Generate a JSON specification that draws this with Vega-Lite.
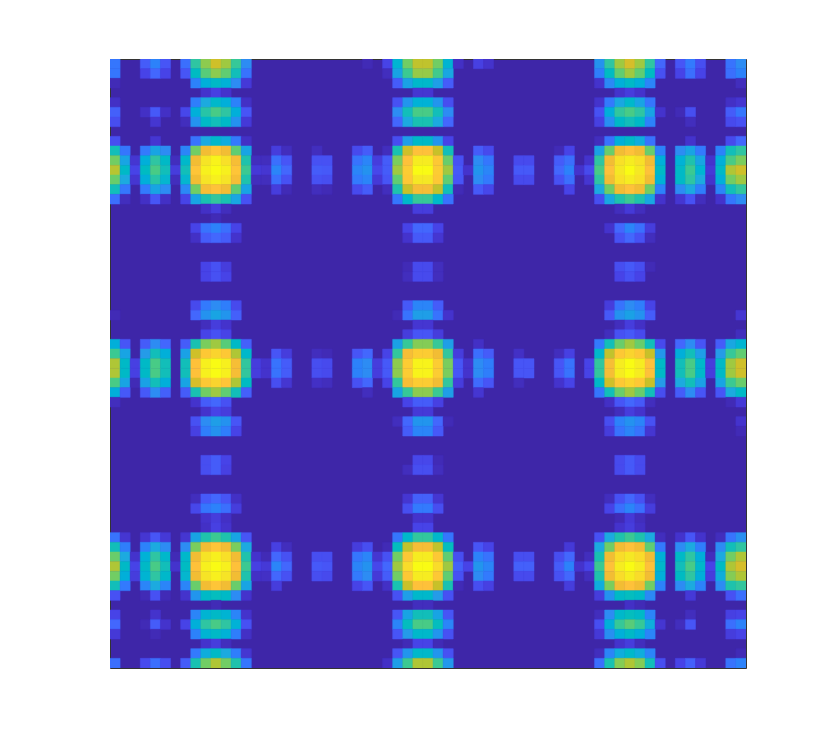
{"$schema":"https://vega.github.io/schema/vega-lite/v6.json","width":636,"height":609,"autosize":{"type":"none"},"padding":{"left":110,"top":59,"right":84,"bottom":86},"background":"white","view":{"fill":"#3e26a8","stroke":"#333333","strokeWidth":1},
"data":{"values":[
{"x":0,"y":0,"v":0.24},{"x":3,"y":0,"v":0.17},{"x":4,"y":0,"v":0.27},{"x":5,"y":0,"v":0.15},{"x":7,"y":0,"v":0.22},{"x":8,"y":0,"v":0.55},{"x":9,"y":0,"v":0.68},{"x":10,"y":0,"v":0.76},{"x":11,"y":0,"v":0.7},{"x":12,"y":0,"v":0.57},{"x":13,"y":0,"v":0.3},{"x":25,"y":0,"v":0.02},{"x":27,"y":0,"v":0.1},{"x":28,"y":0,"v":0.44},{"x":29,"y":0,"v":0.65},{"x":30,"y":0,"v":0.74},{"x":31,"y":0,"v":0.74},{"x":32,"y":0,"v":0.65},{"x":33,"y":0,"v":0.44},{"x":34,"y":0,"v":0.04},{"x":36,"y":0,"v":0.09},{"x":37,"y":0,"v":0.05},{"x":48,"y":0,"v":0.32},{"x":49,"y":0,"v":0.55},{"x":50,"y":0,"v":0.7},{"x":51,"y":0,"v":0.77},{"x":52,"y":0,"v":0.7},{"x":53,"y":0,"v":0.55},{"x":54,"y":0,"v":0.2},{"x":56,"y":0,"v":0.15},{"x":57,"y":0,"v":0.25},{"x":58,"y":0,"v":0.13},{"x":61,"y":0,"v":0.23},{"x":62,"y":0,"v":0.3},
{"x":0,"y":1,"v":0.24},{"x":3,"y":1,"v":0.1},{"x":4,"y":1,"v":0.2},{"x":5,"y":1,"v":0.1},{"x":7,"y":1,"v":0.15},{"x":8,"y":1,"v":0.48},{"x":9,"y":1,"v":0.62},{"x":10,"y":1,"v":0.68},{"x":11,"y":1,"v":0.63},{"x":12,"y":1,"v":0.5},{"x":13,"y":1,"v":0.23},{"x":27,"y":1,"v":0.03},{"x":28,"y":1,"v":0.38},{"x":29,"y":1,"v":0.58},{"x":30,"y":1,"v":0.69},{"x":31,"y":1,"v":0.69},{"x":32,"y":1,"v":0.59},{"x":33,"y":1,"v":0.39},{"x":48,"y":1,"v":0.26},{"x":49,"y":1,"v":0.48},{"x":50,"y":1,"v":0.63},{"x":51,"y":1,"v":0.7},{"x":52,"y":1,"v":0.63},{"x":53,"y":1,"v":0.48},{"x":54,"y":1,"v":0.14},{"x":56,"y":1,"v":0.1},{"x":57,"y":1,"v":0.22},{"x":58,"y":1,"v":0.1},{"x":61,"y":1,"v":0.22},{"x":62,"y":1,"v":0.27},
{"x":0,"y":2,"v":0.02},{"x":8,"y":2,"v":0.27},{"x":9,"y":2,"v":0.42},{"x":10,"y":2,"v":0.47},{"x":11,"y":2,"v":0.43},{"x":12,"y":2,"v":0.3},{"x":13,"y":2,"v":0.07},{"x":28,"y":2,"v":0.17},{"x":29,"y":2,"v":0.37},{"x":30,"y":2,"v":0.46},{"x":31,"y":2,"v":0.46},{"x":32,"y":2,"v":0.36},{"x":33,"y":2,"v":0.17},{"x":48,"y":2,"v":0.05},{"x":49,"y":2,"v":0.29},{"x":50,"y":2,"v":0.42},{"x":51,"y":2,"v":0.47},{"x":52,"y":2,"v":0.42},{"x":53,"y":2,"v":0.28},{"x":62,"y":2,"v":0.03},
{"x":9,"y":3,"v":0.05},{"x":10,"y":3,"v":0.09},{"x":11,"y":3,"v":0.05},{"x":30,"y":3,"v":0.06},{"x":31,"y":3,"v":0.06},{"x":50,"y":3,"v":0.05},{"x":51,"y":3,"v":0.08},{"x":52,"y":3,"v":0.05},
{"x":0,"y":4,"v":0.04},{"x":8,"y":4,"v":0.26},{"x":9,"y":4,"v":0.4},{"x":10,"y":4,"v":0.46},{"x":11,"y":4,"v":0.42},{"x":12,"y":4,"v":0.27},{"x":13,"y":4,"v":0.04},{"x":28,"y":4,"v":0.14},{"x":29,"y":4,"v":0.33},{"x":30,"y":4,"v":0.43},{"x":31,"y":4,"v":0.43},{"x":32,"y":4,"v":0.33},{"x":33,"y":4,"v":0.13},{"x":48,"y":4,"v":0.05},{"x":49,"y":4,"v":0.25},{"x":50,"y":4,"v":0.39},{"x":51,"y":4,"v":0.46},{"x":52,"y":4,"v":0.38},{"x":53,"y":4,"v":0.24},{"x":61,"y":4,"v":0.04},{"x":62,"y":4,"v":0.06},
{"x":0,"y":5,"v":0.18},{"x":3,"y":5,"v":0.04},{"x":4,"y":5,"v":0.16},{"x":5,"y":5,"v":0.04},{"x":7,"y":5,"v":0.11},{"x":8,"y":5,"v":0.42},{"x":9,"y":5,"v":0.54},{"x":10,"y":5,"v":0.6},{"x":11,"y":5,"v":0.55},{"x":12,"y":5,"v":0.42},{"x":13,"y":5,"v":0.15},{"x":28,"y":5,"v":0.3},{"x":29,"y":5,"v":0.5},{"x":30,"y":5,"v":0.6},{"x":31,"y":5,"v":0.6},{"x":32,"y":5,"v":0.5},{"x":33,"y":5,"v":0.3},{"x":48,"y":5,"v":0.14},{"x":49,"y":5,"v":0.42},{"x":50,"y":5,"v":0.56},{"x":51,"y":5,"v":0.6},{"x":52,"y":5,"v":0.55},{"x":53,"y":5,"v":0.38},{"x":54,"y":5,"v":0.05},{"x":56,"y":5,"v":0.02},{"x":57,"y":5,"v":0.13},{"x":61,"y":5,"v":0.17},{"x":62,"y":5,"v":0.24},
{"x":0,"y":6,"v":0.13},{"x":4,"y":6,"v":0.06},{"x":7,"y":6,"v":0.03},{"x":8,"y":6,"v":0.32},{"x":9,"y":6,"v":0.47},{"x":10,"y":6,"v":0.5},{"x":11,"y":6,"v":0.47},{"x":12,"y":6,"v":0.32},{"x":13,"y":6,"v":0.07},{"x":28,"y":6,"v":0.2},{"x":29,"y":6,"v":0.4},{"x":30,"y":6,"v":0.52},{"x":31,"y":6,"v":0.52},{"x":32,"y":6,"v":0.4},{"x":33,"y":6,"v":0.2},{"x":48,"y":6,"v":0.09},{"x":49,"y":6,"v":0.31},{"x":50,"y":6,"v":0.47},{"x":51,"y":6,"v":0.5},{"x":52,"y":6,"v":0.47},{"x":53,"y":6,"v":0.27},{"x":57,"y":6,"v":0.03},{"x":61,"y":6,"v":0.12},{"x":62,"y":6,"v":0.14},
{"x":0,"y":8,"v":0.13},{"x":4,"y":8,"v":0.06},{"x":8,"y":8,"v":0.23},{"x":9,"y":8,"v":0.4},{"x":10,"y":8,"v":0.46},{"x":11,"y":8,"v":0.41},{"x":12,"y":8,"v":0.25},{"x":13,"y":8,"v":0.04},{"x":28,"y":8,"v":0.13},{"x":29,"y":8,"v":0.36},{"x":30,"y":8,"v":0.47},{"x":31,"y":8,"v":0.47},{"x":32,"y":8,"v":0.33},{"x":33,"y":8,"v":0.1},{"x":48,"y":8,"v":0.03},{"x":49,"y":8,"v":0.23},{"x":50,"y":8,"v":0.42},{"x":51,"y":8,"v":0.47},{"x":52,"y":8,"v":0.41},{"x":53,"y":8,"v":0.23},{"x":57,"y":8,"v":0.05},{"x":61,"y":8,"v":0.12},{"x":62,"y":8,"v":0.2},
{"x":0,"y":9,"v":0.5},{"x":1,"y":9,"v":0.24},{"x":3,"y":9,"v":0.25},{"x":4,"y":9,"v":0.38},{"x":5,"y":9,"v":0.3},{"x":7,"y":9,"v":0.28},{"x":8,"y":9,"v":0.65},{"x":9,"y":9,"v":0.82},{"x":10,"y":9,"v":0.86},{"x":11,"y":9,"v":0.82},{"x":12,"y":9,"v":0.63},{"x":13,"y":9,"v":0.38},{"x":16,"y":9,"v":0.08},{"x":17,"y":9,"v":0.03},{"x":20,"y":9,"v":0.03},{"x":24,"y":9,"v":0.12},{"x":25,"y":9,"v":0.17},{"x":27,"y":9,"v":0.03},{"x":28,"y":9,"v":0.52},{"x":29,"y":9,"v":0.76},{"x":30,"y":9,"v":0.85},{"x":31,"y":9,"v":0.85},{"x":32,"y":9,"v":0.75},{"x":33,"y":9,"v":0.5},{"x":36,"y":9,"v":0.17},{"x":37,"y":9,"v":0.12},{"x":44,"y":9,"v":0.02},{"x":45,"y":9,"v":0.1},{"x":48,"y":9,"v":0.37},{"x":49,"y":9,"v":0.64},{"x":50,"y":9,"v":0.82},{"x":51,"y":9,"v":0.85},{"x":52,"y":9,"v":0.82},{"x":53,"y":9,"v":0.64},{"x":54,"y":9,"v":0.27},{"x":56,"y":9,"v":0.3},{"x":57,"y":9,"v":0.38},{"x":58,"y":9,"v":0.25},{"x":60,"y":9,"v":0.27},{"x":61,"y":9,"v":0.5},{"x":62,"y":9,"v":0.55},
{"x":0,"y":10,"v":0.65},{"x":1,"y":10,"v":0.38},{"x":2,"y":10,"v":0.06},{"x":3,"y":10,"v":0.42},{"x":4,"y":10,"v":0.55},{"x":5,"y":10,"v":0.47},{"x":6,"y":10,"v":0.03},{"x":7,"y":10,"v":0.46},{"x":8,"y":10,"v":0.82},{"x":9,"y":10,"v":0.94},{"x":10,"y":10,"v":0.98},{"x":11,"y":10,"v":0.93},{"x":12,"y":10,"v":0.83},{"x":13,"y":10,"v":0.53},{"x":14,"y":10,"v":0.03},{"x":15,"y":10,"v":0.03},{"x":16,"y":10,"v":0.22},{"x":17,"y":10,"v":0.15},{"x":20,"y":10,"v":0.14},{"x":21,"y":10,"v":0.14},{"x":24,"y":10,"v":0.23},{"x":25,"y":10,"v":0.28},{"x":26,"y":10,"v":0.08},{"x":27,"y":10,"v":0.17},{"x":28,"y":10,"v":0.66},{"x":29,"y":10,"v":0.85},{"x":30,"y":10,"v":0.96},{"x":31,"y":10,"v":0.96},{"x":32,"y":10,"v":0.87},{"x":33,"y":10,"v":0.64},{"x":34,"y":10,"v":0.14},{"x":36,"y":10,"v":0.3},{"x":37,"y":10,"v":0.24},{"x":40,"y":10,"v":0.12},{"x":41,"y":10,"v":0.12},{"x":44,"y":10,"v":0.17},{"x":45,"y":10,"v":0.22},{"x":47,"y":10,"v":0.05},{"x":48,"y":10,"v":0.55},{"x":49,"y":10,"v":0.82},{"x":50,"y":10,"v":0.93},{"x":51,"y":10,"v":0.96},{"x":52,"y":10,"v":0.93},{"x":53,"y":10,"v":0.82},{"x":54,"y":10,"v":0.42},{"x":56,"y":10,"v":0.43},{"x":57,"y":10,"v":0.53},{"x":58,"y":10,"v":0.38},{"x":59,"y":10,"v":0.05},{"x":60,"y":10,"v":0.42},{"x":61,"y":10,"v":0.6},{"x":62,"y":10,"v":0.66},
{"x":0,"y":11,"v":0.73},{"x":1,"y":11,"v":0.47},{"x":2,"y":11,"v":0.1},{"x":3,"y":11,"v":0.48},{"x":4,"y":11,"v":0.6},{"x":5,"y":11,"v":0.5},{"x":6,"y":11,"v":0.08},{"x":7,"y":11,"v":0.5},{"x":8,"y":11,"v":0.86},{"x":9,"y":11,"v":0.97},{"x":10,"y":11,"v":1},{"x":11,"y":11,"v":0.97},{"x":12,"y":11,"v":0.86},{"x":13,"y":11,"v":0.58},{"x":14,"y":11,"v":0.07},{"x":15,"y":11,"v":0.06},{"x":16,"y":11,"v":0.28},{"x":17,"y":11,"v":0.2},{"x":20,"y":11,"v":0.17},{"x":21,"y":11,"v":0.16},{"x":24,"y":11,"v":0.28},{"x":25,"y":11,"v":0.32},{"x":26,"y":11,"v":0.11},{"x":27,"y":11,"v":0.17},{"x":28,"y":11,"v":0.7},{"x":29,"y":11,"v":0.88},{"x":30,"y":11,"v":1},{"x":31,"y":11,"v":1},{"x":32,"y":11,"v":0.88},{"x":33,"y":11,"v":0.7},{"x":34,"y":11,"v":0.16},{"x":35,"y":11,"v":0.05},{"x":36,"y":11,"v":0.33},{"x":37,"y":11,"v":0.28},{"x":40,"y":11,"v":0.16},{"x":41,"y":11,"v":0.16},{"x":44,"y":11,"v":0.2},{"x":45,"y":11,"v":0.27},{"x":46,"y":11,"v":0.05},{"x":47,"y":11,"v":0.12},{"x":48,"y":11,"v":0.6},{"x":49,"y":11,"v":0.85},{"x":50,"y":11,"v":0.95},{"x":51,"y":11,"v":1},{"x":52,"y":11,"v":0.95},{"x":53,"y":11,"v":0.85},{"x":54,"y":11,"v":0.47},{"x":56,"y":11,"v":0.47},{"x":57,"y":11,"v":0.58},{"x":58,"y":11,"v":0.44},{"x":59,"y":11,"v":0.07},{"x":60,"y":11,"v":0.47},{"x":61,"y":11,"v":0.72},{"x":62,"y":11,"v":0.76},
{"x":0,"y":12,"v":0.64},{"x":1,"y":12,"v":0.4},{"x":2,"y":12,"v":0.06},{"x":3,"y":12,"v":0.42},{"x":4,"y":12,"v":0.54},{"x":5,"y":12,"v":0.45},{"x":6,"y":12,"v":0.03},{"x":7,"y":12,"v":0.45},{"x":8,"y":12,"v":0.82},{"x":9,"y":12,"v":0.94},{"x":10,"y":12,"v":0.97},{"x":11,"y":12,"v":0.94},{"x":12,"y":12,"v":0.83},{"x":13,"y":12,"v":0.53},{"x":14,"y":12,"v":0.03},{"x":15,"y":12,"v":0.03},{"x":16,"y":12,"v":0.22},{"x":17,"y":12,"v":0.14},{"x":20,"y":12,"v":0.14},{"x":21,"y":12,"v":0.13},{"x":24,"y":12,"v":0.25},{"x":25,"y":12,"v":0.28},{"x":26,"y":12,"v":0.07},{"x":27,"y":12,"v":0.15},{"x":28,"y":12,"v":0.63},{"x":29,"y":12,"v":0.87},{"x":30,"y":12,"v":0.95},{"x":31,"y":12,"v":0.95},{"x":32,"y":12,"v":0.87},{"x":33,"y":12,"v":0.63},{"x":34,"y":12,"v":0.15},{"x":36,"y":12,"v":0.3},{"x":37,"y":12,"v":0.25},{"x":40,"y":12,"v":0.12},{"x":41,"y":12,"v":0.12},{"x":44,"y":12,"v":0.14},{"x":45,"y":12,"v":0.22},{"x":47,"y":12,"v":0.06},{"x":48,"y":12,"v":0.55},{"x":49,"y":12,"v":0.82},{"x":50,"y":12,"v":0.93},{"x":51,"y":12,"v":0.96},{"x":52,"y":12,"v":0.93},{"x":53,"y":12,"v":0.82},{"x":54,"y":12,"v":0.43},{"x":56,"y":12,"v":0.47},{"x":57,"y":12,"v":0.55},{"x":58,"y":12,"v":0.4},{"x":59,"y":12,"v":0.05},{"x":60,"y":12,"v":0.42},{"x":61,"y":12,"v":0.65},{"x":62,"y":12,"v":0.7},
{"x":0,"y":13,"v":0.5},{"x":1,"y":13,"v":0.24},{"x":3,"y":13,"v":0.25},{"x":4,"y":13,"v":0.38},{"x":5,"y":13,"v":0.3},{"x":7,"y":13,"v":0.29},{"x":8,"y":13,"v":0.65},{"x":9,"y":13,"v":0.83},{"x":10,"y":13,"v":0.85},{"x":11,"y":13,"v":0.82},{"x":12,"y":13,"v":0.63},{"x":13,"y":13,"v":0.38},{"x":16,"y":13,"v":0.08},{"x":17,"y":13,"v":0.02},{"x":20,"y":13,"v":0.03},{"x":21,"y":13,"v":0.02},{"x":24,"y":13,"v":0.12},{"x":25,"y":13,"v":0.17},{"x":27,"y":13,"v":0.03},{"x":28,"y":13,"v":0.53},{"x":29,"y":13,"v":0.75},{"x":30,"y":13,"v":0.83},{"x":31,"y":13,"v":0.83},{"x":32,"y":13,"v":0.74},{"x":33,"y":13,"v":0.5},{"x":34,"y":13,"v":0.02},{"x":36,"y":13,"v":0.16},{"x":37,"y":13,"v":0.11},{"x":45,"y":13,"v":0.1},{"x":48,"y":13,"v":0.4},{"x":49,"y":13,"v":0.65},{"x":50,"y":13,"v":0.82},{"x":51,"y":13,"v":0.85},{"x":52,"y":13,"v":0.82},{"x":53,"y":13,"v":0.65},{"x":54,"y":13,"v":0.27},{"x":56,"y":13,"v":0.3},{"x":57,"y":13,"v":0.4},{"x":58,"y":13,"v":0.26},{"x":60,"y":13,"v":0.28},{"x":61,"y":13,"v":0.5},{"x":62,"y":13,"v":0.56},
{"x":0,"y":14,"v":0.22},{"x":1,"y":14,"v":0.03},{"x":3,"y":14,"v":0.04},{"x":4,"y":14,"v":0.15},{"x":5,"y":14,"v":0.04},{"x":7,"y":14,"v":0.1},{"x":8,"y":14,"v":0.38},{"x":9,"y":14,"v":0.52},{"x":10,"y":14,"v":0.56},{"x":11,"y":14,"v":0.52},{"x":12,"y":14,"v":0.39},{"x":13,"y":14,"v":0.14},{"x":28,"y":14,"v":0.24},{"x":29,"y":14,"v":0.46},{"x":30,"y":14,"v":0.57},{"x":31,"y":14,"v":0.57},{"x":32,"y":14,"v":0.46},{"x":33,"y":14,"v":0.23},{"x":48,"y":14,"v":0.13},{"x":49,"y":14,"v":0.39},{"x":50,"y":14,"v":0.53},{"x":51,"y":14,"v":0.58},{"x":52,"y":14,"v":0.53},{"x":53,"y":14,"v":0.39},{"x":54,"y":14,"v":0.05},{"x":56,"y":14,"v":0.06},{"x":57,"y":14,"v":0.14},{"x":58,"y":14,"v":0.03},{"x":60,"y":14,"v":0.05},{"x":61,"y":14,"v":0.24},{"x":62,"y":14,"v":0.3},
{"x":9,"y":15,"v":0.04},{"x":10,"y":15,"v":0.08},{"x":11,"y":15,"v":0.03},{"x":30,"y":15,"v":0.08},{"x":31,"y":15,"v":0.08},{"x":50,"y":15,"v":0.03},{"x":51,"y":15,"v":0.07},{"x":52,"y":15,"v":0.03},
{"x":10,"y":16,"v":0.02},
{"x":8,"y":17,"v":0.1},{"x":9,"y":17,"v":0.23},{"x":10,"y":17,"v":0.27},{"x":11,"y":17,"v":0.22},{"x":12,"y":17,"v":0.1},{"x":29,"y":17,"v":0.1},{"x":30,"y":17,"v":0.2},{"x":31,"y":17,"v":0.2},{"x":32,"y":17,"v":0.1},{"x":49,"y":17,"v":0.05},{"x":50,"y":17,"v":0.2},{"x":51,"y":17,"v":0.28},{"x":52,"y":17,"v":0.22},{"x":53,"y":17,"v":0.08},
{"x":8,"y":18,"v":0.04},{"x":9,"y":18,"v":0.17},{"x":10,"y":18,"v":0.2},{"x":11,"y":18,"v":0.17},{"x":12,"y":18,"v":0.05},{"x":29,"y":18,"v":0.05},{"x":30,"y":18,"v":0.16},{"x":31,"y":18,"v":0.16},{"x":32,"y":18,"v":0.06},{"x":50,"y":18,"v":0.14},{"x":51,"y":18,"v":0.2},{"x":52,"y":18,"v":0.14},{"x":53,"y":18,"v":0.03},
{"x":9,"y":21,"v":0.1},{"x":10,"y":21,"v":0.14},{"x":11,"y":21,"v":0.08},{"x":29,"y":21,"v":0.02},{"x":30,"y":21,"v":0.12},{"x":31,"y":21,"v":0.12},{"x":32,"y":21,"v":0.03},{"x":50,"y":21,"v":0.13},{"x":51,"y":21,"v":0.16},{"x":52,"y":21,"v":0.13},{"x":53,"y":21,"v":0.02},
{"x":9,"y":22,"v":0.1},{"x":10,"y":22,"v":0.14},{"x":11,"y":22,"v":0.1},{"x":29,"y":22,"v":0.03},{"x":30,"y":22,"v":0.12},{"x":31,"y":22,"v":0.12},{"x":32,"y":22,"v":0.03},{"x":50,"y":22,"v":0.1},{"x":51,"y":22,"v":0.14},{"x":52,"y":22,"v":0.1},
{"x":8,"y":25,"v":0.12},{"x":9,"y":25,"v":0.25},{"x":10,"y":25,"v":0.3},{"x":11,"y":25,"v":0.26},{"x":12,"y":25,"v":0.12},{"x":29,"y":25,"v":0.16},{"x":30,"y":25,"v":0.28},{"x":31,"y":25,"v":0.28},{"x":32,"y":25,"v":0.17},{"x":49,"y":25,"v":0.08},{"x":50,"y":25,"v":0.23},{"x":51,"y":25,"v":0.3},{"x":52,"y":25,"v":0.26},{"x":53,"y":25,"v":0.1},
{"x":0,"y":26,"v":0.02},{"x":8,"y":26,"v":0.2},{"x":9,"y":26,"v":0.32},{"x":10,"y":26,"v":0.38},{"x":11,"y":26,"v":0.33},{"x":12,"y":26,"v":0.18},{"x":28,"y":26,"v":0.02},{"x":29,"y":26,"v":0.23},{"x":30,"y":26,"v":0.36},{"x":31,"y":26,"v":0.36},{"x":32,"y":26,"v":0.23},{"x":33,"y":26,"v":0.05},{"x":49,"y":26,"v":0.16},{"x":50,"y":26,"v":0.32},{"x":51,"y":26,"v":0.37},{"x":52,"y":26,"v":0.32},{"x":53,"y":26,"v":0.17},{"x":62,"y":26,"v":0.06},
{"x":9,"y":27,"v":0.03},{"x":10,"y":27,"v":0.08},{"x":11,"y":27,"v":0.05},{"x":30,"y":27,"v":0.06},{"x":31,"y":27,"v":0.06},{"x":50,"y":27,"v":0.03},{"x":51,"y":27,"v":0.08},{"x":52,"y":27,"v":0.04},
{"x":9,"y":28,"v":0.1},{"x":10,"y":28,"v":0.14},{"x":11,"y":28,"v":0.1},{"x":29,"y":28,"v":0.08},{"x":30,"y":28,"v":0.15},{"x":31,"y":28,"v":0.15},{"x":32,"y":28,"v":0.08},{"x":49,"y":28,"v":0.03},{"x":50,"y":28,"v":0.14},{"x":51,"y":28,"v":0.16},{"x":52,"y":28,"v":0.12},{"x":62,"y":28,"v":0.03},
{"x":0,"y":29,"v":0.42},{"x":1,"y":29,"v":0.15},{"x":3,"y":29,"v":0.17},{"x":4,"y":29,"v":0.3},{"x":5,"y":29,"v":0.2},{"x":7,"y":29,"v":0.17},{"x":8,"y":29,"v":0.52},{"x":9,"y":29,"v":0.66},{"x":10,"y":29,"v":0.7},{"x":11,"y":29,"v":0.62},{"x":12,"y":29,"v":0.47},{"x":13,"y":29,"v":0.18},{"x":28,"y":29,"v":0.37},{"x":29,"y":29,"v":0.57},{"x":30,"y":29,"v":0.67},{"x":31,"y":29,"v":0.67},{"x":32,"y":29,"v":0.57},{"x":33,"y":29,"v":0.36},{"x":36,"y":29,"v":0.04},{"x":48,"y":29,"v":0.25},{"x":49,"y":29,"v":0.5},{"x":50,"y":29,"v":0.64},{"x":51,"y":29,"v":0.7},{"x":52,"y":29,"v":0.64},{"x":53,"y":29,"v":0.5},{"x":54,"y":29,"v":0.12},{"x":56,"y":29,"v":0.2},{"x":57,"y":29,"v":0.3},{"x":58,"y":29,"v":0.15},{"x":60,"y":29,"v":0.17},{"x":61,"y":29,"v":0.39},{"x":62,"y":29,"v":0.44},
{"x":0,"y":30,"v":0.58},{"x":1,"y":30,"v":0.38},{"x":3,"y":30,"v":0.35},{"x":4,"y":30,"v":0.5},{"x":5,"y":30,"v":0.42},{"x":7,"y":30,"v":0.37},{"x":8,"y":30,"v":0.76},{"x":9,"y":30,"v":0.87},{"x":10,"y":30,"v":0.9},{"x":11,"y":30,"v":0.87},{"x":12,"y":30,"v":0.72},{"x":13,"y":30,"v":0.46},{"x":16,"y":30,"v":0.15},{"x":17,"y":30,"v":0.08},{"x":20,"y":30,"v":0.03},{"x":21,"y":30,"v":0.02},{"x":24,"y":30,"v":0.15},{"x":25,"y":30,"v":0.2},{"x":27,"y":30,"v":0.1},{"x":28,"y":30,"v":0.56},{"x":29,"y":30,"v":0.83},{"x":30,"y":30,"v":0.88},{"x":31,"y":30,"v":0.88},{"x":32,"y":30,"v":0.82},{"x":33,"y":30,"v":0.56},{"x":34,"y":30,"v":0.08},{"x":36,"y":30,"v":0.22},{"x":37,"y":30,"v":0.17},{"x":40,"y":30,"v":0.04},{"x":44,"y":30,"v":0.03},{"x":45,"y":30,"v":0.09},{"x":48,"y":30,"v":0.46},{"x":49,"y":30,"v":0.74},{"x":50,"y":30,"v":0.87},{"x":51,"y":30,"v":0.9},{"x":52,"y":30,"v":0.87},{"x":53,"y":30,"v":0.75},{"x":54,"y":30,"v":0.34},{"x":56,"y":30,"v":0.42},{"x":57,"y":30,"v":0.5},{"x":58,"y":30,"v":0.36},{"x":60,"y":30,"v":0.35},{"x":61,"y":30,"v":0.57},{"x":62,"y":30,"v":0.63},
{"x":0,"y":31,"v":0.72},{"x":1,"y":31,"v":0.47},{"x":2,"y":31,"v":0.09},{"x":3,"y":31,"v":0.47},{"x":4,"y":31,"v":0.6},{"x":5,"y":31,"v":0.5},{"x":7,"y":31,"v":0.5},{"x":8,"y":31,"v":0.85},{"x":9,"y":31,"v":0.97},{"x":10,"y":31,"v":1},{"x":11,"y":31,"v":0.97},{"x":12,"y":31,"v":0.83},{"x":13,"y":31,"v":0.56},{"x":14,"y":31,"v":0.08},{"x":15,"y":31,"v":0.05},{"x":16,"y":31,"v":0.23},{"x":17,"y":31,"v":0.17},{"x":20,"y":31,"v":0.13},{"x":21,"y":31,"v":0.12},{"x":24,"y":31,"v":0.27},{"x":25,"y":31,"v":0.3},{"x":26,"y":31,"v":0.08},{"x":27,"y":31,"v":0.16},{"x":28,"y":31,"v":0.68},{"x":29,"y":31,"v":0.88},{"x":30,"y":31,"v":0.98},{"x":31,"y":31,"v":0.98},{"x":32,"y":31,"v":0.88},{"x":33,"y":31,"v":0.66},{"x":34,"y":31,"v":0.15},{"x":35,"y":31,"v":0.05},{"x":36,"y":31,"v":0.3},{"x":37,"y":31,"v":0.26},{"x":40,"y":31,"v":0.15},{"x":41,"y":31,"v":0.15},{"x":44,"y":31,"v":0.15},{"x":45,"y":31,"v":0.23},{"x":47,"y":31,"v":0.1},{"x":48,"y":31,"v":0.56},{"x":49,"y":31,"v":0.83},{"x":50,"y":31,"v":0.96},{"x":51,"y":31,"v":1},{"x":52,"y":31,"v":0.96},{"x":53,"y":31,"v":0.85},{"x":54,"y":31,"v":0.47},{"x":56,"y":31,"v":0.5},{"x":57,"y":31,"v":0.6},{"x":58,"y":31,"v":0.46},{"x":59,"y":31,"v":0.08},{"x":60,"y":31,"v":0.47},{"x":61,"y":31,"v":0.7},{"x":62,"y":31,"v":0.76},
{"x":0,"y":32,"v":0.72},{"x":1,"y":32,"v":0.47},{"x":2,"y":32,"v":0.09},{"x":3,"y":32,"v":0.47},{"x":4,"y":32,"v":0.6},{"x":5,"y":32,"v":0.5},{"x":7,"y":32,"v":0.5},{"x":8,"y":32,"v":0.85},{"x":9,"y":32,"v":0.97},{"x":10,"y":32,"v":1},{"x":11,"y":32,"v":0.97},{"x":12,"y":32,"v":0.83},{"x":13,"y":32,"v":0.56},{"x":14,"y":32,"v":0.08},{"x":15,"y":32,"v":0.05},{"x":16,"y":32,"v":0.23},{"x":17,"y":32,"v":0.17},{"x":20,"y":32,"v":0.13},{"x":21,"y":32,"v":0.12},{"x":24,"y":32,"v":0.27},{"x":25,"y":32,"v":0.3},{"x":26,"y":32,"v":0.08},{"x":27,"y":32,"v":0.16},{"x":28,"y":32,"v":0.68},{"x":29,"y":32,"v":0.88},{"x":30,"y":32,"v":0.98},{"x":31,"y":32,"v":0.98},{"x":32,"y":32,"v":0.88},{"x":33,"y":32,"v":0.66},{"x":34,"y":32,"v":0.15},{"x":35,"y":32,"v":0.05},{"x":36,"y":32,"v":0.3},{"x":37,"y":32,"v":0.26},{"x":40,"y":32,"v":0.15},{"x":41,"y":32,"v":0.15},{"x":44,"y":32,"v":0.15},{"x":45,"y":32,"v":0.23},{"x":47,"y":32,"v":0.1},{"x":48,"y":32,"v":0.56},{"x":49,"y":32,"v":0.83},{"x":50,"y":32,"v":0.96},{"x":51,"y":32,"v":1},{"x":52,"y":32,"v":0.96},{"x":53,"y":32,"v":0.85},{"x":54,"y":32,"v":0.47},{"x":56,"y":32,"v":0.5},{"x":57,"y":32,"v":0.6},{"x":58,"y":32,"v":0.46},{"x":59,"y":32,"v":0.08},{"x":60,"y":32,"v":0.47},{"x":61,"y":32,"v":0.7},{"x":62,"y":32,"v":0.76},
{"x":0,"y":33,"v":0.6},{"x":1,"y":33,"v":0.38},{"x":2,"y":33,"v":0.02},{"x":3,"y":33,"v":0.37},{"x":4,"y":33,"v":0.5},{"x":5,"y":33,"v":0.42},{"x":7,"y":33,"v":0.38},{"x":8,"y":33,"v":0.77},{"x":9,"y":33,"v":0.87},{"x":10,"y":33,"v":0.9},{"x":11,"y":33,"v":0.86},{"x":12,"y":33,"v":0.72},{"x":13,"y":33,"v":0.48},{"x":16,"y":33,"v":0.13},{"x":17,"y":33,"v":0.06},{"x":20,"y":33,"v":0.04},{"x":21,"y":33,"v":0.03},{"x":24,"y":33,"v":0.14},{"x":25,"y":33,"v":0.2},{"x":27,"y":33,"v":0.1},{"x":28,"y":33,"v":0.56},{"x":29,"y":33,"v":0.83},{"x":30,"y":33,"v":0.88},{"x":31,"y":33,"v":0.88},{"x":32,"y":33,"v":0.82},{"x":33,"y":33,"v":0.56},{"x":34,"y":33,"v":0.08},{"x":36,"y":33,"v":0.21},{"x":37,"y":33,"v":0.15},{"x":40,"y":33,"v":0.03},{"x":44,"y":33,"v":0.05},{"x":45,"y":33,"v":0.1},{"x":48,"y":33,"v":0.47},{"x":49,"y":33,"v":0.76},{"x":50,"y":33,"v":0.87},{"x":51,"y":33,"v":0.9},{"x":52,"y":33,"v":0.87},{"x":53,"y":33,"v":0.75},{"x":54,"y":33,"v":0.35},{"x":56,"y":33,"v":0.4},{"x":57,"y":33,"v":0.5},{"x":58,"y":33,"v":0.37},{"x":60,"y":33,"v":0.38},{"x":61,"y":33,"v":0.58},{"x":62,"y":33,"v":0.64},
{"x":0,"y":34,"v":0.42},{"x":1,"y":34,"v":0.16},{"x":3,"y":34,"v":0.16},{"x":4,"y":34,"v":0.3},{"x":5,"y":34,"v":0.18},{"x":7,"y":34,"v":0.17},{"x":8,"y":34,"v":0.52},{"x":9,"y":34,"v":0.65},{"x":10,"y":34,"v":0.7},{"x":11,"y":34,"v":0.63},{"x":12,"y":34,"v":0.5},{"x":13,"y":34,"v":0.18},{"x":25,"y":34,"v":0.03},{"x":28,"y":34,"v":0.38},{"x":29,"y":34,"v":0.57},{"x":30,"y":34,"v":0.68},{"x":31,"y":34,"v":0.68},{"x":32,"y":34,"v":0.58},{"x":33,"y":34,"v":0.36},{"x":36,"y":34,"v":0.06},{"x":48,"y":34,"v":0.24},{"x":49,"y":34,"v":0.5},{"x":50,"y":34,"v":0.64},{"x":51,"y":34,"v":0.7},{"x":52,"y":34,"v":0.64},{"x":53,"y":34,"v":0.5},{"x":54,"y":34,"v":0.13},{"x":56,"y":34,"v":0.17},{"x":57,"y":34,"v":0.3},{"x":58,"y":34,"v":0.15},{"x":60,"y":34,"v":0.15},{"x":61,"y":34,"v":0.4},{"x":62,"y":34,"v":0.47},
{"x":0,"y":35,"v":0.03},{"x":8,"y":35,"v":0.05},{"x":9,"y":35,"v":0.17},{"x":10,"y":35,"v":0.2},{"x":11,"y":35,"v":0.14},{"x":29,"y":35,"v":0.1},{"x":30,"y":35,"v":0.17},{"x":31,"y":35,"v":0.17},{"x":32,"y":35,"v":0.09},{"x":49,"y":35,"v":0.04},{"x":50,"y":35,"v":0.15},{"x":51,"y":35,"v":0.2},{"x":52,"y":35,"v":0.16},{"x":53,"y":35,"v":0.03},{"x":61,"y":35,"v":0.02},{"x":62,"y":35,"v":0.07},
{"x":9,"y":36,"v":0.05},{"x":10,"y":36,"v":0.1},{"x":11,"y":36,"v":0.08},{"x":30,"y":36,"v":0.07},{"x":31,"y":36,"v":0.07},{"x":50,"y":36,"v":0.03},{"x":51,"y":36,"v":0.08},{"x":52,"y":36,"v":0.05},
{"x":8,"y":37,"v":0.14},{"x":9,"y":37,"v":0.3},{"x":10,"y":37,"v":0.36},{"x":11,"y":37,"v":0.32},{"x":12,"y":37,"v":0.15},{"x":28,"y":37,"v":0.03},{"x":29,"y":37,"v":0.2},{"x":30,"y":37,"v":0.33},{"x":31,"y":37,"v":0.33},{"x":32,"y":37,"v":0.2},{"x":33,"y":37,"v":0.02},{"x":49,"y":37,"v":0.13},{"x":50,"y":37,"v":0.27},{"x":51,"y":37,"v":0.32},{"x":52,"y":37,"v":0.28},{"x":53,"y":37,"v":0.14},{"x":62,"y":37,"v":0.05},
{"x":8,"y":38,"v":0.09},{"x":9,"y":38,"v":0.26},{"x":10,"y":38,"v":0.32},{"x":11,"y":38,"v":0.26},{"x":12,"y":38,"v":0.1},{"x":29,"y":38,"v":0.17},{"x":30,"y":38,"v":0.28},{"x":31,"y":38,"v":0.28},{"x":32,"y":38,"v":0.16},{"x":49,"y":38,"v":0.08},{"x":50,"y":38,"v":0.23},{"x":51,"y":38,"v":0.28},{"x":52,"y":38,"v":0.23},{"x":53,"y":38,"v":0.06},{"x":62,"y":38,"v":0.02},
{"x":9,"y":41,"v":0.13},{"x":10,"y":41,"v":0.17},{"x":11,"y":41,"v":0.1},{"x":30,"y":41,"v":0.11},{"x":31,"y":41,"v":0.11},{"x":32,"y":41,"v":0.02},{"x":50,"y":41,"v":0.12},{"x":51,"y":41,"v":0.16},{"x":52,"y":41,"v":0.12},
{"x":9,"y":42,"v":0.13},{"x":10,"y":42,"v":0.17},{"x":11,"y":42,"v":0.09},{"x":29,"y":42,"v":0.03},{"x":30,"y":42,"v":0.13},{"x":31,"y":42,"v":0.13},{"x":32,"y":42,"v":0.03},{"x":50,"y":42,"v":0.12},{"x":51,"y":42,"v":0.16},{"x":52,"y":42,"v":0.12},
{"x":8,"y":45,"v":0.03},{"x":9,"y":45,"v":0.16},{"x":10,"y":45,"v":0.2},{"x":11,"y":45,"v":0.15},{"x":12,"y":45,"v":0.04},{"x":29,"y":45,"v":0.06},{"x":30,"y":45,"v":0.18},{"x":31,"y":45,"v":0.18},{"x":32,"y":45,"v":0.06},{"x":49,"y":45,"v":0.03},{"x":50,"y":45,"v":0.14},{"x":51,"y":45,"v":0.2},{"x":52,"y":45,"v":0.14},{"x":53,"y":45,"v":0.03},
{"x":8,"y":46,"v":0.11},{"x":9,"y":46,"v":0.24},{"x":10,"y":46,"v":0.27},{"x":11,"y":46,"v":0.22},{"x":12,"y":46,"v":0.08},{"x":29,"y":46,"v":0.13},{"x":30,"y":46,"v":0.25},{"x":31,"y":46,"v":0.25},{"x":32,"y":46,"v":0.13},{"x":49,"y":46,"v":0.1},{"x":50,"y":46,"v":0.22},{"x":51,"y":46,"v":0.28},{"x":52,"y":46,"v":0.22},{"x":53,"y":46,"v":0.08},
{"x":9,"y":47,"v":0.05},{"x":10,"y":47,"v":0.08},{"x":11,"y":47,"v":0.04},{"x":30,"y":47,"v":0.05},{"x":31,"y":47,"v":0.05},{"x":50,"y":47,"v":0.02},{"x":51,"y":47,"v":0.07},{"x":52,"y":47,"v":0.03},
{"x":9,"y":48,"v":0.04},{"x":10,"y":48,"v":0.09},{"x":11,"y":48,"v":0.05},{"x":30,"y":48,"v":0.1},{"x":31,"y":48,"v":0.1},{"x":50,"y":48,"v":0.05},{"x":51,"y":48,"v":0.08},{"x":52,"y":48,"v":0.04},
{"x":0,"y":49,"v":0.23},{"x":1,"y":49,"v":0.06},{"x":3,"y":49,"v":0.06},{"x":4,"y":49,"v":0.15},{"x":5,"y":49,"v":0.07},{"x":7,"y":49,"v":0.06},{"x":8,"y":49,"v":0.38},{"x":9,"y":49,"v":0.53},{"x":10,"y":49,"v":0.58},{"x":11,"y":49,"v":0.53},{"x":12,"y":49,"v":0.38},{"x":13,"y":49,"v":0.15},{"x":28,"y":49,"v":0.24},{"x":29,"y":49,"v":0.46},{"x":30,"y":49,"v":0.56},{"x":31,"y":49,"v":0.56},{"x":32,"y":49,"v":0.46},{"x":33,"y":49,"v":0.24},{"x":48,"y":49,"v":0.14},{"x":49,"y":49,"v":0.4},{"x":50,"y":49,"v":0.53},{"x":51,"y":49,"v":0.58},{"x":52,"y":49,"v":0.53},{"x":53,"y":49,"v":0.4},{"x":54,"y":49,"v":0.03},{"x":56,"y":49,"v":0.05},{"x":57,"y":49,"v":0.15},{"x":58,"y":49,"v":0.05},{"x":60,"y":49,"v":0.03},{"x":61,"y":49,"v":0.23},{"x":62,"y":49,"v":0.31},
{"x":0,"y":50,"v":0.5},{"x":1,"y":50,"v":0.26},{"x":3,"y":50,"v":0.27},{"x":4,"y":50,"v":0.4},{"x":5,"y":50,"v":0.3},{"x":7,"y":50,"v":0.3},{"x":8,"y":50,"v":0.66},{"x":9,"y":50,"v":0.82},{"x":10,"y":50,"v":0.86},{"x":11,"y":50,"v":0.82},{"x":12,"y":50,"v":0.66},{"x":13,"y":50,"v":0.4},{"x":16,"y":50,"v":0.09},{"x":17,"y":50,"v":0.03},{"x":24,"y":50,"v":0.08},{"x":25,"y":50,"v":0.13},{"x":27,"y":50,"v":0.02},{"x":28,"y":50,"v":0.49},{"x":29,"y":50,"v":0.74},{"x":30,"y":50,"v":0.83},{"x":31,"y":50,"v":0.83},{"x":32,"y":50,"v":0.74},{"x":33,"y":50,"v":0.49},{"x":36,"y":50,"v":0.15},{"x":37,"y":50,"v":0.1},{"x":45,"y":50,"v":0.07},{"x":48,"y":50,"v":0.4},{"x":49,"y":50,"v":0.65},{"x":50,"y":50,"v":0.82},{"x":51,"y":50,"v":0.85},{"x":52,"y":50,"v":0.82},{"x":53,"y":50,"v":0.63},{"x":54,"y":50,"v":0.25},{"x":56,"y":50,"v":0.3},{"x":57,"y":50,"v":0.4},{"x":58,"y":50,"v":0.26},{"x":60,"y":50,"v":0.3},{"x":61,"y":50,"v":0.5},{"x":62,"y":50,"v":0.55},
{"x":0,"y":51,"v":0.64},{"x":1,"y":51,"v":0.4},{"x":2,"y":51,"v":0.05},{"x":3,"y":51,"v":0.43},{"x":4,"y":51,"v":0.55},{"x":5,"y":51,"v":0.46},{"x":6,"y":51,"v":0.02},{"x":7,"y":51,"v":0.46},{"x":8,"y":51,"v":0.82},{"x":9,"y":51,"v":0.94},{"x":10,"y":51,"v":0.97},{"x":11,"y":51,"v":0.93},{"x":12,"y":51,"v":0.82},{"x":13,"y":51,"v":0.53},{"x":14,"y":51,"v":0.05},{"x":15,"y":51,"v":0.02},{"x":16,"y":51,"v":0.2},{"x":17,"y":51,"v":0.14},{"x":20,"y":51,"v":0.13},{"x":21,"y":51,"v":0.13},{"x":24,"y":51,"v":0.24},{"x":25,"y":51,"v":0.28},{"x":26,"y":51,"v":0.06},{"x":27,"y":51,"v":0.14},{"x":28,"y":51,"v":0.65},{"x":29,"y":51,"v":0.87},{"x":30,"y":51,"v":0.96},{"x":31,"y":51,"v":0.96},{"x":32,"y":51,"v":0.87},{"x":33,"y":51,"v":0.63},{"x":34,"y":51,"v":0.13},{"x":36,"y":51,"v":0.27},{"x":37,"y":51,"v":0.23},{"x":40,"y":51,"v":0.13},{"x":41,"y":51,"v":0.13},{"x":44,"y":51,"v":0.13},{"x":45,"y":51,"v":0.2},{"x":47,"y":51,"v":0.03},{"x":48,"y":51,"v":0.52},{"x":49,"y":51,"v":0.82},{"x":50,"y":51,"v":0.92},{"x":51,"y":51,"v":0.95},{"x":52,"y":51,"v":0.92},{"x":53,"y":51,"v":0.82},{"x":54,"y":51,"v":0.43},{"x":56,"y":51,"v":0.47},{"x":57,"y":51,"v":0.55},{"x":58,"y":51,"v":0.42},{"x":59,"y":51,"v":0.03},{"x":60,"y":51,"v":0.4},{"x":61,"y":51,"v":0.65},{"x":62,"y":51,"v":0.72},
{"x":0,"y":52,"v":0.72},{"x":1,"y":52,"v":0.47},{"x":2,"y":52,"v":0.1},{"x":3,"y":52,"v":0.47},{"x":4,"y":52,"v":0.6},{"x":5,"y":52,"v":0.5},{"x":6,"y":52,"v":0.05},{"x":7,"y":52,"v":0.48},{"x":8,"y":52,"v":0.85},{"x":9,"y":52,"v":0.97},{"x":10,"y":52,"v":1},{"x":11,"y":52,"v":0.97},{"x":12,"y":52,"v":0.85},{"x":13,"y":52,"v":0.58},{"x":14,"y":52,"v":0.09},{"x":15,"y":52,"v":0.07},{"x":16,"y":52,"v":0.28},{"x":17,"y":52,"v":0.2},{"x":20,"y":52,"v":0.16},{"x":21,"y":52,"v":0.15},{"x":24,"y":52,"v":0.28},{"x":25,"y":52,"v":0.32},{"x":26,"y":52,"v":0.11},{"x":27,"y":52,"v":0.2},{"x":28,"y":52,"v":0.7},{"x":29,"y":52,"v":0.92},{"x":30,"y":52,"v":1},{"x":31,"y":52,"v":1},{"x":32,"y":52,"v":0.92},{"x":33,"y":52,"v":0.7},{"x":34,"y":52,"v":0.18},{"x":35,"y":52,"v":0.1},{"x":36,"y":52,"v":0.33},{"x":37,"y":52,"v":0.28},{"x":40,"y":52,"v":0.18},{"x":41,"y":52,"v":0.18},{"x":44,"y":52,"v":0.17},{"x":45,"y":52,"v":0.27},{"x":46,"y":52,"v":0.05},{"x":47,"y":52,"v":0.1},{"x":48,"y":52,"v":0.58},{"x":49,"y":52,"v":0.85},{"x":50,"y":52,"v":0.96},{"x":51,"y":52,"v":1},{"x":52,"y":52,"v":0.96},{"x":53,"y":52,"v":0.85},{"x":54,"y":52,"v":0.46},{"x":56,"y":52,"v":0.5},{"x":57,"y":52,"v":0.6},{"x":58,"y":52,"v":0.46},{"x":59,"y":52,"v":0.1},{"x":60,"y":52,"v":0.48},{"x":61,"y":52,"v":0.72},{"x":62,"y":52,"v":0.77},
{"x":0,"y":53,"v":0.65},{"x":1,"y":53,"v":0.42},{"x":2,"y":53,"v":0.08},{"x":3,"y":53,"v":0.44},{"x":4,"y":53,"v":0.55},{"x":5,"y":53,"v":0.46},{"x":7,"y":53,"v":0.45},{"x":8,"y":53,"v":0.82},{"x":9,"y":53,"v":0.94},{"x":10,"y":53,"v":0.97},{"x":11,"y":53,"v":0.94},{"x":12,"y":53,"v":0.82},{"x":13,"y":53,"v":0.53},{"x":14,"y":53,"v":0.04},{"x":15,"y":53,"v":0.04},{"x":16,"y":53,"v":0.2},{"x":17,"y":53,"v":0.14},{"x":20,"y":53,"v":0.13},{"x":21,"y":53,"v":0.12},{"x":24,"y":53,"v":0.25},{"x":25,"y":53,"v":0.3},{"x":26,"y":53,"v":0.07},{"x":27,"y":53,"v":0.17},{"x":28,"y":53,"v":0.65},{"x":29,"y":53,"v":0.87},{"x":30,"y":53,"v":0.96},{"x":31,"y":53,"v":0.96},{"x":32,"y":53,"v":0.87},{"x":33,"y":53,"v":0.63},{"x":34,"y":53,"v":0.14},{"x":36,"y":53,"v":0.3},{"x":37,"y":53,"v":0.25},{"x":40,"y":53,"v":0.12},{"x":41,"y":53,"v":0.12},{"x":44,"y":53,"v":0.14},{"x":45,"y":53,"v":0.2},{"x":47,"y":53,"v":0.03},{"x":48,"y":53,"v":0.53},{"x":49,"y":53,"v":0.82},{"x":50,"y":53,"v":0.92},{"x":51,"y":53,"v":0.96},{"x":52,"y":53,"v":0.92},{"x":53,"y":53,"v":0.82},{"x":54,"y":53,"v":0.42},{"x":56,"y":53,"v":0.48},{"x":57,"y":53,"v":0.55},{"x":58,"y":53,"v":0.42},{"x":59,"y":53,"v":0.08},{"x":60,"y":53,"v":0.41},{"x":61,"y":53,"v":0.67},{"x":62,"y":53,"v":0.72},
{"x":0,"y":54,"v":0.5},{"x":1,"y":54,"v":0.25},{"x":3,"y":54,"v":0.28},{"x":4,"y":54,"v":0.4},{"x":5,"y":54,"v":0.28},{"x":7,"y":54,"v":0.28},{"x":8,"y":54,"v":0.64},{"x":9,"y":54,"v":0.82},{"x":10,"y":54,"v":0.86},{"x":11,"y":54,"v":0.82},{"x":12,"y":54,"v":0.64},{"x":13,"y":54,"v":0.38},{"x":16,"y":54,"v":0.08},{"x":24,"y":54,"v":0.1},{"x":25,"y":54,"v":0.15},{"x":27,"y":54,"v":0.04},{"x":28,"y":54,"v":0.52},{"x":29,"y":54,"v":0.75},{"x":30,"y":54,"v":0.85},{"x":31,"y":54,"v":0.85},{"x":32,"y":54,"v":0.75},{"x":33,"y":54,"v":0.52},{"x":34,"y":54,"v":0.02},{"x":36,"y":54,"v":0.13},{"x":37,"y":54,"v":0.09},{"x":45,"y":54,"v":0.08},{"x":48,"y":54,"v":0.41},{"x":49,"y":54,"v":0.66},{"x":50,"y":54,"v":0.82},{"x":51,"y":54,"v":0.85},{"x":52,"y":54,"v":0.82},{"x":53,"y":54,"v":0.65},{"x":54,"y":54,"v":0.27},{"x":56,"y":54,"v":0.3},{"x":57,"y":54,"v":0.4},{"x":58,"y":54,"v":0.27},{"x":60,"y":54,"v":0.3},{"x":61,"y":54,"v":0.53},{"x":62,"y":54,"v":0.56},
{"x":0,"y":55,"v":0.14},{"x":3,"y":55,"v":0.02},{"x":4,"y":55,"v":0.14},{"x":5,"y":55,"v":0.02},{"x":7,"y":55,"v":0.05},{"x":8,"y":55,"v":0.33},{"x":9,"y":55,"v":0.47},{"x":10,"y":55,"v":0.49},{"x":11,"y":55,"v":0.47},{"x":12,"y":55,"v":0.3},{"x":13,"y":55,"v":0.05},{"x":28,"y":55,"v":0.14},{"x":29,"y":55,"v":0.36},{"x":30,"y":55,"v":0.46},{"x":31,"y":55,"v":0.46},{"x":32,"y":55,"v":0.35},{"x":33,"y":55,"v":0.14},{"x":48,"y":55,"v":0.08},{"x":49,"y":55,"v":0.32},{"x":50,"y":55,"v":0.47},{"x":51,"y":55,"v":0.49},{"x":52,"y":55,"v":0.47},{"x":53,"y":55,"v":0.29},{"x":57,"y":55,"v":0.07},{"x":61,"y":55,"v":0.14},{"x":62,"y":55,"v":0.22},
{"x":10,"y":56,"v":0.02},{"x":30,"y":56,"v":0.03},{"x":31,"y":56,"v":0.03},{"x":51,"y":56,"v":0.04},{"x":52,"y":56,"v":0.02},
{"x":0,"y":57,"v":0.1},{"x":4,"y":57,"v":0.05},{"x":8,"y":57,"v":0.28},{"x":9,"y":57,"v":0.44},{"x":10,"y":57,"v":0.47},{"x":11,"y":57,"v":0.44},{"x":12,"y":57,"v":0.28},{"x":13,"y":57,"v":0.05},{"x":28,"y":57,"v":0.15},{"x":29,"y":57,"v":0.38},{"x":30,"y":57,"v":0.5},{"x":31,"y":57,"v":0.5},{"x":32,"y":57,"v":0.38},{"x":33,"y":57,"v":0.15},{"x":48,"y":57,"v":0.03},{"x":49,"y":57,"v":0.3},{"x":50,"y":57,"v":0.46},{"x":51,"y":57,"v":0.49},{"x":52,"y":57,"v":0.47},{"x":53,"y":57,"v":0.28},{"x":57,"y":57,"v":0.03},{"x":61,"y":57,"v":0.09},{"x":62,"y":57,"v":0.1},
{"x":0,"y":58,"v":0.2},{"x":3,"y":58,"v":0.02},{"x":4,"y":58,"v":0.17},{"x":5,"y":58,"v":0.05},{"x":7,"y":58,"v":0.1},{"x":8,"y":58,"v":0.42},{"x":9,"y":58,"v":0.55},{"x":10,"y":58,"v":0.6},{"x":11,"y":58,"v":0.55},{"x":12,"y":58,"v":0.43},{"x":13,"y":58,"v":0.14},{"x":28,"y":58,"v":0.28},{"x":29,"y":58,"v":0.49},{"x":30,"y":58,"v":0.6},{"x":31,"y":58,"v":0.6},{"x":32,"y":58,"v":0.49},{"x":33,"y":58,"v":0.28},{"x":48,"y":58,"v":0.13},{"x":49,"y":58,"v":0.42},{"x":50,"y":58,"v":0.57},{"x":51,"y":58,"v":0.62},{"x":52,"y":58,"v":0.57},{"x":53,"y":58,"v":0.41},{"x":54,"y":58,"v":0.06},{"x":56,"y":58,"v":0.03},{"x":57,"y":58,"v":0.15},{"x":61,"y":58,"v":0.22},{"x":62,"y":58,"v":0.27},
{"x":0,"y":59,"v":0.07},{"x":4,"y":59,"v":0.02},{"x":8,"y":59,"v":0.27},{"x":9,"y":59,"v":0.44},{"x":10,"y":59,"v":0.47},{"x":11,"y":59,"v":0.43},{"x":12,"y":59,"v":0.26},{"x":13,"y":59,"v":0.04},{"x":28,"y":59,"v":0.15},{"x":29,"y":59,"v":0.35},{"x":30,"y":59,"v":0.46},{"x":31,"y":59,"v":0.46},{"x":32,"y":59,"v":0.33},{"x":33,"y":59,"v":0.14},{"x":48,"y":59,"v":0.07},{"x":49,"y":59,"v":0.31},{"x":50,"y":59,"v":0.42},{"x":51,"y":59,"v":0.47},{"x":52,"y":59,"v":0.42},{"x":53,"y":59,"v":0.28},{"x":61,"y":59,"v":0.08},{"x":62,"y":59,"v":0.1},
{"x":9,"y":60,"v":0.05},{"x":10,"y":60,"v":0.08},{"x":11,"y":60,"v":0.03},{"x":29,"y":60,"v":0.02},{"x":30,"y":60,"v":0.1},{"x":31,"y":60,"v":0.1},{"x":32,"y":60,"v":0.02},{"x":50,"y":60,"v":0.05},{"x":51,"y":60,"v":0.08},{"x":52,"y":60,"v":0.03},
{"x":8,"y":61,"v":0.25},{"x":9,"y":61,"v":0.41},{"x":10,"y":61,"v":0.47},{"x":11,"y":61,"v":0.4},{"x":12,"y":61,"v":0.26},{"x":13,"y":61,"v":0.06},{"x":28,"y":61,"v":0.15},{"x":29,"y":61,"v":0.33},{"x":30,"y":61,"v":0.46},{"x":31,"y":61,"v":0.46},{"x":32,"y":61,"v":0.33},{"x":33,"y":61,"v":0.14},{"x":48,"y":61,"v":0.03},{"x":49,"y":61,"v":0.28},{"x":50,"y":61,"v":0.41},{"x":51,"y":61,"v":0.46},{"x":52,"y":61,"v":0.41},{"x":53,"y":61,"v":0.28},{"x":62,"y":61,"v":0.02},
{"x":0,"y":62,"v":0.22},{"x":3,"y":62,"v":0.12},{"x":4,"y":62,"v":0.22},{"x":5,"y":62,"v":0.13},{"x":7,"y":62,"v":0.17},{"x":8,"y":62,"v":0.52},{"x":9,"y":62,"v":0.65},{"x":10,"y":62,"v":0.72},{"x":11,"y":62,"v":0.65},{"x":12,"y":62,"v":0.53},{"x":13,"y":62,"v":0.24},{"x":27,"y":62,"v":0.04},{"x":28,"y":62,"v":0.36},{"x":29,"y":62,"v":0.58},{"x":30,"y":62,"v":0.72},{"x":31,"y":62,"v":0.72},{"x":32,"y":62,"v":0.58},{"x":33,"y":62,"v":0.34},{"x":48,"y":62,"v":0.22},{"x":49,"y":62,"v":0.52},{"x":50,"y":62,"v":0.67},{"x":51,"y":62,"v":0.72},{"x":52,"y":62,"v":0.67},{"x":53,"y":62,"v":0.5},{"x":54,"y":62,"v":0.13},{"x":56,"y":62,"v":0.1},{"x":57,"y":62,"v":0.18},{"x":58,"y":62,"v":0.07},{"x":61,"y":62,"v":0.23},{"x":62,"y":62,"v":0.27}
]},
"mark":{"type":"rect","strokeWidth":0.5,"clip":true},
"encoding":{
"x":{"field":"x","type":"ordinal","axis":null,"scale":{"domain":[0,1,2,3,4,5,6,7,8,9,10,11,12,13,14,15,16,17,18,19,20,21,22,23,24,25,26,27,28,29,30,31,32,33,34,35,36,37,38,39,40,41,42,43,44,45,46,47,48,49,50,51,52,53,54,55,56,57,58,59,60,61,62],"paddingInner":0,"paddingOuter":0}},
"y":{"field":"y","type":"ordinal","axis":null,"scale":{"domain":[0,1,2,3,4,5,6,7,8,9,10,11,12,13,14,15,16,17,18,19,20,21,22,23,24,25,26,27,28,29,30,31,32,33,34,35,36,37,38,39,40,41,42,43,44,45,46,47,48,49,50,51,52,53,54,55,56,57,58,59,60,61,62],"paddingInner":0,"paddingOuter":0}},
"color":{"field":"v","type":"quantitative","legend":null,"scale":{"domain":[0,0.05,0.1,0.15,0.2,0.25,0.3,0.35,0.4,0.45,0.5,0.55,0.6,0.65,0.7,0.75,0.8,0.85,0.9,0.95,1],"range":["#3e26a8","#4433cc","#4743e7","#4755f6","#4367fd","#337afd","#2d8cf3","#259be8","#1caadf","#05b6ce","#12beb9","#2fc5a2","#48cb86","#71cd64","#9fc941","#c8c129","#eaba30","#fec13a","#fad42e","#f5e824","#f9fb14"]}},
"stroke":{"field":"v","type":"quantitative","legend":null,"scale":{"domain":[0,0.05,0.1,0.15,0.2,0.25,0.3,0.35,0.4,0.45,0.5,0.55,0.6,0.65,0.7,0.75,0.8,0.85,0.9,0.95,1],"range":["#3e26a8","#4433cc","#4743e7","#4755f6","#4367fd","#337afd","#2d8cf3","#259be8","#1caadf","#05b6ce","#12beb9","#2fc5a2","#48cb86","#71cd64","#9fc941","#c8c129","#eaba30","#fec13a","#fad42e","#f5e824","#f9fb14"]}}
}
}
